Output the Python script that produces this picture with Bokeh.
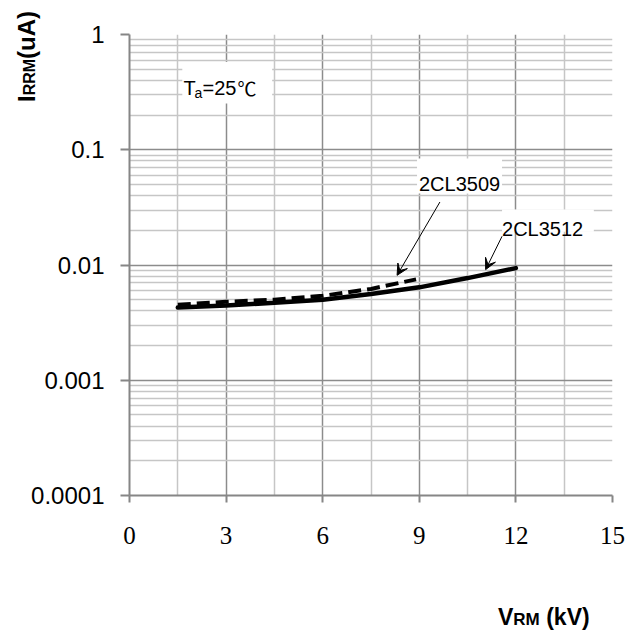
import math
from bokeh.plotting import figure
from bokeh.models import (FixedTicker, CustomJSTickFormatter, Label, Arrow,
                          VeeHead, BoxAnnotation, Div, GridBox)
from bokeh.embed import file_html
from bokeh.resources import INLINE

# ---- data ----
v_3512 = [1.5, 3, 4.5, 6, 7.5, 9, 10.5, 12]
i_3512 = [0.00427, 0.00445, 0.0047, 0.0050, 0.0056, 0.0064, 0.0077, 0.0094]
v_3509 = [1.5, 3, 4.5, 6, 7.5, 8.9]
i_3509 = [0.00452, 0.0048, 0.0050, 0.0054, 0.0062, 0.0075]

x_ticks = [0, 3, 6, 9, 12, 15]
x_minor = [1.5, 4.5, 7.5, 10.5, 13.5]
y_ticks = [0.0001, 0.001, 0.01, 0.1, 1]
y_minor = [m * d for d in y_ticks[:-1] for m in range(2, 10)]

name_3509 = "2CL3509"
name_3512 = "2CL3512"

W, H = 635, 632
p = figure(width=W, height=H, x_range=(0, 15), y_range=(1e-4, 1),
           y_axis_type="log", output_backend="svg", toolbar_location=None,
           min_border_left=129, min_border_right=23, min_border_top=34,
           min_border_bottom=137)
p.outline_line_color = None
p.background_fill_color = "white"
p.border_fill_color = "white"

xt = FixedTicker(ticks=x_ticks, minor_ticks=x_minor)
yt = FixedTicker(ticks=y_ticks, minor_ticks=y_minor)
p.xaxis.ticker = xt
p.yaxis.ticker = yt
p.xgrid.ticker = xt
p.ygrid.ticker = yt

major_c = "#8c8c8c"
minor_c = "#c6c6c6"
for g in (p.xgrid, p.ygrid):
    g.grid_line_color = major_c
    g.grid_line_width = 1.5
    g.minor_grid_line_color = minor_c
    g.minor_grid_line_width = 1.5

for ax in (p.xaxis, p.yaxis):
    ax.axis_line_color = "#868686"
    ax.axis_line_width = 2
    ax.major_tick_line_color = "#868686"
    ax.major_tick_line_width = 2
    ax.major_tick_in = 0
    ax.minor_tick_line_color = None
    ax.major_label_text_color = "black"

p.xaxis.major_tick_out = 7
p.xaxis.major_label_standoff = 24
p.xaxis.major_label_text_font = "Liberation Serif"
p.xaxis.major_label_text_font_size = "25px"

p.yaxis.major_tick_out = 9
p.yaxis.major_label_standoff = 16
p.yaxis.major_label_text_font = "Liberation Sans"
p.yaxis.major_label_text_font_size = "24px"
p.yaxis.formatter = CustomJSTickFormatter(
    code="return Number(tick.toPrecision(1)).toString();")

# ---- curves ----
p.line(v_3512, i_3512, line_color="black", line_width=4.5, line_cap="round")
p.line(v_3509, i_3509, line_color="black", line_width=4, line_dash="13 6")

# ---- white boxes behind the texts ----
for (l, r, b, t) in [(1.64, 4.43, 0.252, 0.578),
                     (8.93, 11.57, 0.0417, 0.0839),
                     (11.57, 14.42, 0.0194, 0.0303)]:
    p.add_layout(BoxAnnotation(left=l, right=r, bottom=b, top=t,
                               fill_color="white", fill_alpha=1.0,
                               line_color=None, level="annotation"))

# ---- T_a = 25 C ----
TA_X, TA_Y = 1.677, 0.3467
common = dict(text_color="black", text_baseline="alphabetic")
p.add_layout(Label(x=TA_X, y=TA_Y, text="T", text_font="Liberation Sans",
                   text_font_size="20px", **common))
p.add_layout(Label(x=TA_X, y=TA_Y, x_offset=11, y_offset=-5, text="a",
                   text_font="Liberation Sans", text_font_size="14px", **common))
p.add_layout(Label(x=TA_X, y=TA_Y, x_offset=19, text="=25",
                   text_font="Liberation Sans", text_font_size="20px", **common))
p.add_layout(Label(x=TA_X, y=TA_Y, x_offset=54, text="\u2103",
                   text_font="Noto Sans CJK SC", text_font_size="19px", **common))

# ---- series labels with arrows ----
p.add_layout(Label(x=10.25, y=0.0509, text=name_3509, text_align="center",
                   text_font="Liberation Sans", text_font_size="20px", **common))
p.add_layout(Label(x=12.83, y=0.0207, text=name_3512, text_align="center",
                   text_font="Liberation Sans", text_font_size="20px", **common))
p.add_layout(Arrow(x_start=9.64, y_start=0.0352, x_end=8.31, y_end=0.00814,
                   line_color="black", line_width=1,
                   end=VeeHead(size=11, fill_color="black", line_color="black",
                               line_width=1)))
p.add_layout(Arrow(x_start=11.57, y_start=0.01775, x_end=11.06, y_end=0.00912,
                   line_color="black", line_width=1,
                   end=VeeHead(size=11, fill_color="black", line_color="black",
                               line_width=1)))

# ---- axis titles (mixed sizes) as an HTML overlay ----
font = "font-family:'Liberation Sans',Arial,sans-serif;font-weight:bold;color:black;"
x_title = ('<span style="font-size:23px">V</span>'
           '<span style="font-size:17px">RM</span>'
           '<span style="font-size:23px">&nbsp;(kV)</span>')
y_title = ('<span style="font-size:24px">I</span>'
           '<span style="font-size:16px">RRM</span>'
           '<span style="font-size:24px">(uA)</span>')
html = (
    f'<div style="position:relative;width:{W}px;height:{H}px;{font}">'
    f'<div style="position:absolute;left:493px;top:601px;white-space:nowrap;'
    f'line-height:1;">{x_title}</div>'
    f'<div style="position:absolute;left:10px;top:97px;white-space:nowrap;'
    f'line-height:1;transform-origin:0 0;transform:rotate(-90deg);">{y_title}</div>'
    '</div>'
)
overlay = Div(text=html, width=W, height=H,
              styles={"pointer-events": "none"})

layout = GridBox(children=[(p, 0, 0), (overlay, 0, 0)])

open("out.html", "w").write(file_html(layout, INLINE))
